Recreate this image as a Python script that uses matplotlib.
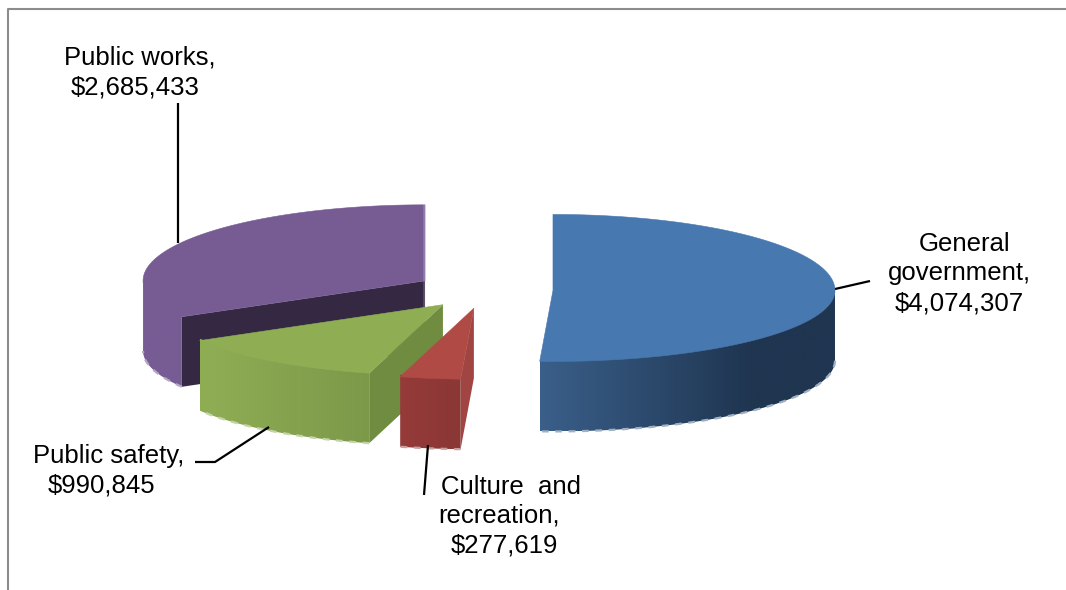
import numpy as np
import matplotlib
matplotlib.use("Agg")
import matplotlib.pyplot as plt
from matplotlib.colors import LinearSegmentedColormap
from matplotlib.patches import Polygon

plt.rcParams['font.family'] = ['Liberation Sans', 'DejaVu Sans']

# expenditure by function, clockwise from 12 o'clock
names = ["General government", "Culture and recreation", "Public safety", "Public works"]
values = [4074307, 277619, 990845, 2685433]

top_colors = ["#4878b0", "#af4a45", "#8fae54", "#775c94"]
wall_left = ["#3a5f8a", "#953b3a", "#8fae54", "#775c94"]
wall_right = ["#1f3550", "#8a3735", "#7c994a", "#775c94"]
wall_stop = [0.72, 1.0, 1.0, 1.0]
cut_colors = [None, "#a04542", "#6f8c40", "#352843"]
edge_colors = ["#9fb0c4", "#c9a0a0", "#c4d4a8", "#b5a8c4"]

# pie geometry in pixels
cx, cy = 484.5, 290
rx, ry_back, ry_front = 282, 76, 71
explode = 68.5
depth = 70

fig = plt.figure(figsize=(10.66, 5.9), dpi=100)
ax = fig.add_axes([0, 0, 1, 1])
ax.axis('off')

# chart frame, only top and left show
ax.plot([8, 8, 1066], [590, 8.5, 8.5], color="#8c8c8c", lw=1.5, zorder=1)


def rim(theta, ax0, ay0):
    ry = np.where(np.cos(theta) > 0, ry_back, ry_front)
    return ax0 + rx * np.sin(theta), ay0 - ry * np.cos(theta)


fracs = np.array(values) / sum(values)
edges = np.concatenate([[0], np.cumsum(fracs)]) * 2 * np.pi

slices = []
for i in range(len(values)):
    mid = (edges[i] + edges[i + 1]) / 2
    ax0 = cx + explode * np.sin(mid)
    ay0 = cy - explode * ry_back / rx * np.cos(mid)
    slices.append((edges[i], edges[i + 1], ax0, ay0))

# back to front: works, safety, culture, government
for z, i in enumerate([3, 2, 1, 0]):
    t0, t1, ax0, ay0 = slices[i]
    zb = 3 + z
    th = np.linspace(t0, t1, 240)
    x, y = rim(th, ax0, ay0)

    # straight cut face on the clockwise side that looks at the viewer
    if cut_colors[i]:
        xe, ye = rim(np.array([t0]), ax0, ay0)
        ax.fill([ax0, xe[0], xe[0], ax0], [ay0, ye[0], ye[0] + depth, ay0 + depth],
                color=cut_colors[i], lw=0, zorder=zb)

    # outer wall, a horizontal gradient clipped to the wall outline
    front = (th > np.pi / 2) & (th < 3 * np.pi / 2)
    xf, yf = x[front], y[front]
    # start a little above the rim so no seam shows under the top face
    wall = Polygon(np.c_[np.r_[xf, xf[::-1]], np.r_[yf - 2, yf[::-1] + depth]],
                   closed=True, transform=ax.transData, fc='none', ec='none')
    ax.add_patch(wall)
    cmap = LinearSegmentedColormap.from_list(
        "wall", [(0, wall_left[i]), (wall_stop[i], wall_right[i]), (1, wall_right[i])])
    img = ax.imshow(np.linspace(0, 1, 256)[None, :], cmap=cmap, aspect='auto', vmin=0, vmax=1,
                    extent=(xf.min(), xf.max(), yf.max() + depth, yf.min() - 2), zorder=zb)
    img.set_clip_path(wall)

    # rough light fringe along the bottom edge
    ax.plot(xf, yf + depth, color=edge_colors[i], lw=1.6, ls=(0, (3, 3)), zorder=zb)

    # top face
    ax.fill(np.r_[ax0, x], np.r_[ay0, y], color=top_colors[i], lw=0.4, zorder=zb + 0.5)

# pale sliver on the back cut of the works slice
t0, t1, ax0, ay0 = slices[3]
ax.plot([ax0 - 1, ax0 - 1], [ay0 - ry_back, ay0 + depth], color="white", alpha=0.2, lw=1.8, zorder=3.6)

# leader lines
leaders = [
    ([178, 178], [103, 243]),
    ([835, 870], [289, 281]),
    ([195, 215, 269], [462, 462, 427]),
    ([428, 424], [445, 495]),
]
for lx, ly in leaders:
    ax.plot(lx, ly, color="black", lw=1.6, zorder=12, solid_capstyle='butt')

# data labels, line by line
label_lines = [
    ([names[0].split()[0], names[0].split()[1] + ",", f"${values[0]:,}"],
     [965, 959, 959], [244, 273, 303]),
    (["Culture  and", "recreation,", f"${values[1]:,}"],
     [511, 499, 504], [487, 516, 545]),
    ([names[2] + ",", f"${values[2]:,}"], [109, 101], [456, 485]),
    ([names[3] + ",", f"${values[3]:,}"], [140, 135], [57, 87]),
]
for lines, xs, ys in label_lines:
    for s, tx, ty in zip(lines, xs, ys):
        ax.text(tx, ty, s, ha='center', va='center', fontsize=18.5, color="black", zorder=13)

ax.set_xlim(0, 1066)
ax.set_ylim(590, 0)
fig.savefig("out.png", dpi=100)
